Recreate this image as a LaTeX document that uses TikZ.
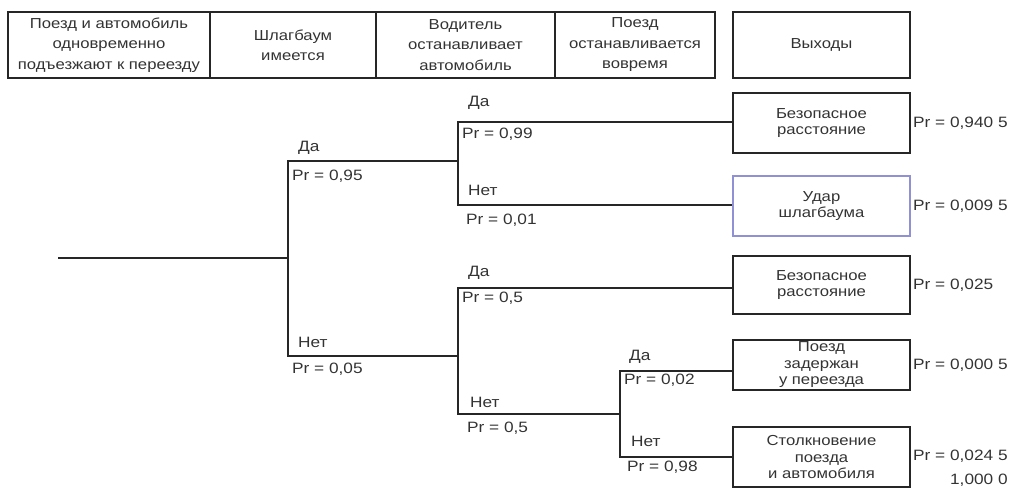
\documentclass[tikz,border=0pt]{standalone}
\usepackage{fontspec}
\setmainfont[FakeStretch=1.15]{Liberation Sans}
\begin{document}
\begin{tikzpicture}[x=1pt,y=-1pt,
  txt/.style={text=black!80,font=\fontsize{15}{18}\selectfont},
  hdr/.style={draw=black!85,line width=1.6pt,rectangle,inner sep=0pt,align=center,txt,font=\fontsize{14.5}{20.5}\selectfont},
  outbox/.style={draw=black!85,line width=1.6pt,rectangle,inner sep=0pt,align=center,txt,font=\fontsize{14.5}{16.5}\selectfont,minimum width=177pt},
  lbl/.style={txt,anchor=west,inner sep=0pt},
  br/.style={line width=1.4pt,black!85}]
\useasboundingbox (0,0) rectangle (1022,488);
% header
\node[hdr,minimum width=202pt,minimum height=66pt] (h1) at (109,45) {Поезд и автомобиль\\одновременно\\подъезжают к переезду};
\node[hdr,minimum width=166pt,minimum height=66pt] (h2) at (293,45) {Шлагбаум\\имеется};
\node[hdr,minimum width=179pt,minimum height=66pt] (h3) at (465.5,45) {Водитель\\останавливает\\автомобиль};
\node[hdr,minimum width=160pt,minimum height=66pt] (h4) at (635,45) {Поезд\\останавливается\\вовремя};
\node[hdr,minimum width=177pt,minimum height=66pt] (h5) at (821.5,45) {Выходы};
% outcomes
\node[outbox,minimum height=60pt] (o1) at (821.5,123) {Безопасное\\расстояние};
\node[outbox,minimum height=60pt,draw=blue!45!gray!60] (o2) at (821.5,206) {Удар\\шлагбаума};
\node[outbox,minimum height=58pt] (o3) at (821.5,285) {Безопасное\\расстояние};
\node[outbox,minimum height=50pt] (o4) at (821.5,365) {Поезд\\задержан\\у переезда};
\node[outbox,minimum height=60pt] (o5) at (821.5,457) {Столкновение\\поезда\\и автомобиля};
% tree coordinates
\coordinate (s) at (58,258);
\coordinate (r) at (288,258);
\coordinate (a) at (288,161);
\coordinate (b) at (288,356);
\coordinate (am) at (458,161);
\coordinate (bm) at (458,356);
\coordinate (a1) at (458,122);
\coordinate (a2) at (458,205);
\coordinate (b1) at (458,288);
\coordinate (b2) at (458,414);
\coordinate (c) at (620,414);
\coordinate (c1) at (620,371);
\coordinate (c2) at (620,457);
\draw[br] (s) -- (r);
\draw[br] (am) -- (a) -- (b) -- (bm);
\draw[br] (a1 -| o1.west) -- (a1) -- (a2) -- (a2 -| o2.west);
\draw[br] (b1 -| o3.west) -- (b1) -- (b2) -- (c);
\draw[br] (c1 -| o4.west) -- (c1) -- (c2) -- (c2 -| o5.west);
% branch labels
\node[lbl] (l1) at (298,148) {Да};
\node[lbl] (l2) at (292,176) {Pr = 0,95};
\node[lbl] (l3) at (298,342) {Нет};
\node[lbl] (l4) at (292,369) {Pr = 0,05};
\node[lbl] (l5) at (468,103) {Да};
\node[lbl] (l6) at (462,134) {Pr = 0,99};
\node[lbl] (l7) at (468,190) {Нет};
\node[lbl] (l8) at (466,220) {Pr = 0,01};
\node[lbl] (l9) at (468,273) {Да};
\node[lbl] (l10) at (462,298) {Pr = 0,5};
\node[lbl] (l11) at (470,402) {Нет};
\node[lbl] (l12) at (467,428) {Pr = 0,5};
\node[lbl] (l13) at (629,357) {Да};
\node[lbl] (l14) at (624,380) {Pr = 0,02};
\node[lbl] (l15) at (631,441) {Нет};
\node[lbl] (l16) at (627,467) {Pr = 0,98};
% outcome probabilities
\node[lbl] (p1) at (913,123) {Pr = 0,940 5};
\node[lbl] (p2) at (913,206) {Pr = 0,009 5};
\node[lbl] (p3) at (913,285) {Pr = 0,025};
\node[lbl] (p4) at (913,365) {Pr = 0,000 5};
\node[lbl] (p5) at (913,456) {Pr = 0,024 5};
\node[txt,anchor=east,inner sep=0pt] (tot) at (p5.east |- 0,480) {1,000 0};
\end{tikzpicture}
\end{document}
